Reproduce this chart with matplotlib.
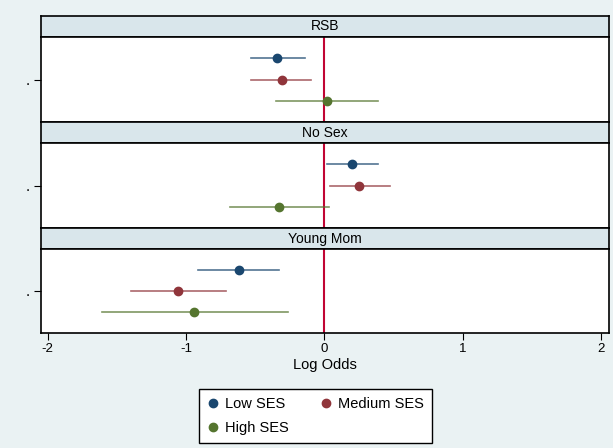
import matplotlib.pyplot as plt
from matplotlib.lines import Line2D

plt.rcParams['font.family'] = ['Liberation Sans', 'DejaVu Sans']

panels = ["RSB", "No Sex", "Young Mom"]
groups = ["Low SES", "Medium SES", "High SES"]
colors = ["#1a476f", "#90353b", "#55752f"]

# point estimates and CI per panel, order: Low, Medium, High
est = [[-0.34, -0.31, 0.02],
       [0.20, 0.25, -0.33],
       [-0.62, -1.06, -0.94]]
lo = [[-0.53, -0.53, -0.35],
      [0.02, 0.04, -0.68],
      [-0.91, -1.40, -1.61]]
hi = [[-0.14, -0.10, 0.39],
      [0.39, 0.47, 0.03],
      [-0.33, -0.71, -0.26]]
xticks = [-2, -1, 0, 1, 2]

W, H = 613, 448
fig = plt.figure(figsize=(W / 100, H / 100), dpi=100, facecolor="#eaf2f3")

left, right = 40.6, 609
panel_y = [(37, 122), (143, 228), (249, 333)]
head_y = [(16, 37), (122, 143), (228, 249)]
offsets = [0.5, 0, -0.5]

for p, name in enumerate(panels):
    y0, y1 = head_y[p]
    hx = fig.add_axes([left / W, 1 - y1 / H, (right - left) / W, (y1 - y0) / H])
    hx.set_facecolor("#d9e6eb")
    hx.set_xticks([]); hx.set_yticks([])
    for s in hx.spines.values():
        s.set_linewidth(1.2)
    hx.text(0.5, 0.5, name, ha="center", va="center", fontsize=10, transform=hx.transAxes)

    y0, y1 = panel_y[p]
    ax = fig.add_axes([left / W, 1 - y1 / H, (right - left) / W, (y1 - y0) / H])
    ax.set_facecolor("white")
    for s in ax.spines.values():
        s.set_linewidth(1.2)
    ax.set_xlim(-2.05, 2.055)
    ax.set_ylim(-1, 1)
    ax.axvline(0, color="#c10534", lw=1.5, zorder=1)
    for g in range(3):
        yy = offsets[g]
        ax.plot([lo[p][g], hi[p][g]], [yy, yy], color=colors[g], lw=1.2, alpha=0.75, zorder=2)
        ax.plot(est[p][g], yy, "o", color=colors[g], ms=6, zorder=3)
    ax.set_yticks([0])
    ax.set_yticklabels(["."], fontsize=11)
    ax.tick_params(axis="y", length=5, width=0.8, pad=3)
    ax.set_xticks(xticks)
    if p < 2:
        ax.tick_params(axis="x", bottom=False, labelbottom=False)
    else:
        ax.set_xticklabels([str(t) for t in xticks], fontsize=9.5)
        ax.tick_params(axis="x", length=5, width=0.8, pad=2)
        ax.set_xlabel("Log Odds", fontsize=10.5, labelpad=2)

handles = [Line2D([], [], marker="o", ls="none", color=c, ms=6) for c in colors]
# legend fills columns first; reorder so that row 1 is Low, Medium
order = [0, 2, 1]
leg = fig.legend([handles[i] for i in order], [groups[i] for i in order],
                 loc="center", bbox_to_anchor=((200 + 431) / 2 / W, 1 - 416 / H),
                 ncol=2, fontsize=10.5, frameon=True, fancybox=False, edgecolor="black",
                 framealpha=1, handletextpad=0.4, columnspacing=2.2, borderpad=0.55,
                 labelspacing=0.65, handlelength=0.8)
leg.get_frame().set_linewidth(1.0)

fig.savefig("out.png", dpi=100, facecolor=fig.get_facecolor())
